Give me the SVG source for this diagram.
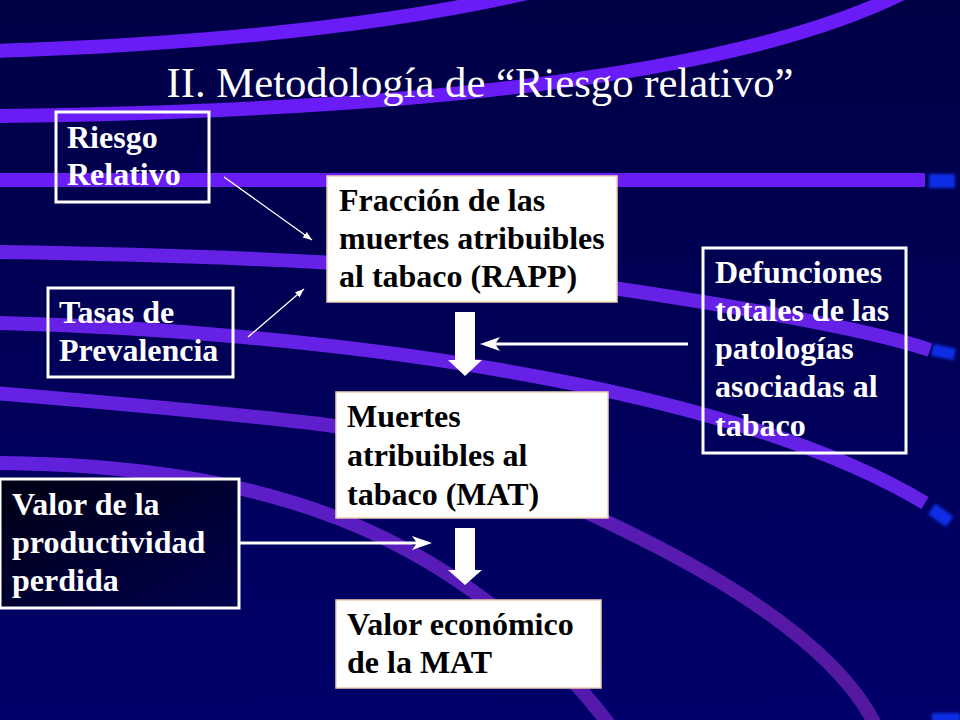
<svg xmlns="http://www.w3.org/2000/svg" width="960" height="720" viewBox="0 0 960 720">
<defs>
<style>
.title{font-family:"Liberation Serif","Times New Roman",serif;font-size:42.7px;fill:#ffffff}
.lbl{font-family:"Liberation Serif","Times New Roman",serif;font-weight:bold;font-size:32px}
.lt{fill:#ffffff}
.dk{fill:#000000}
.obox{fill:none;stroke:#ffffff;stroke-width:3}
.wbox{fill:#ffffff;stroke:#f0d0b0;stroke-width:1.5}
.st{fill:none;stroke-width:14}
.thin{stroke:#ffffff;stroke-width:1.3;fill:none;marker-end:url(#thinHead)}
.thick{stroke:#ffffff;stroke-width:3;fill:none;marker-end:url(#thickHead)}
.block{fill:#ffffff}
.blue{fill:#0a2ee6;filter:url(#soft)}
</style>
<linearGradient id="bg" x1="0" y1="0" x2="0" y2="1">
<stop offset="0" stop-color="#000046"/>
<stop offset="1" stop-color="#00006a"/>
</linearGradient>
<linearGradient id="darkFill" x1="0" y1="0" x2="1" y2="1">
<stop offset="0" stop-color="#000012"/>
<stop offset="1" stop-color="#000050"/>
</linearGradient>
<linearGradient id="fadeC" gradientUnits="userSpaceOnUse" x1="0" y1="0" x2="880" y2="0">
<stop offset="0" stop-color="#6522e6"/>
<stop offset="1" stop-color="#54189e"/>
</linearGradient>
<linearGradient id="fadeD" gradientUnits="userSpaceOnUse" x1="0" y1="0" x2="620" y2="0">
<stop offset="0" stop-color="#6222e0"/>
<stop offset="1" stop-color="#5418a8"/>
</linearGradient>
<filter id="soft" x="-50%" y="-50%" width="200%" height="200%">
<feGaussianBlur stdDeviation="1.6"/>
</filter>
<marker id="thinHead" markerUnits="userSpaceOnUse" markerWidth="10" markerHeight="8" refX="9" refY="3.5" orient="auto">
<path d="M0,0 L9,3.5 L0,7 z" fill="#ffffff"/>
</marker>
<marker id="thickHead" markerUnits="userSpaceOnUse" markerWidth="21" markerHeight="15" refX="8" refY="7" orient="auto">
<path d="M0,0 L20,7 L0,14 L5,7 z" fill="#ffffff"/>
</marker>
</defs>

<rect width="960" height="720" fill="url(#bg)"/>

<g id="background-stripes">
<path class="st" stroke="#6a1cf6" d="M-5,51 Q330,40 540,-10"/>
<path class="st" stroke="#6a1cf6" d="M-5,116 C350,112 720,85 905,-8"/>
<rect x="0" y="173" width="925" height="14" fill="#6a1cf6"/>
<rect class="blue" x="929" y="174" width="26" height="14"/>
<path class="st" stroke="#6522e6" d="M-5,252 Q420,258 640,292 T930,350"/>
<rect class="blue" x="932" y="346" width="23" height="12" transform="rotate(12 943 352)"/>
<path class="st" stroke="#6522e6" d="M-5,323 C300,330 720,380 925,503"/>
<rect class="blue" x="930" y="509" width="22" height="13" transform="rotate(35 941 515)"/>
<path class="st" stroke="url(#fadeC)" d="M-5,393 Q200,410 320,424 T640,538 T880,735"/>
<path class="st" stroke="url(#fadeD)" d="M-5,463 C250,465 455,522 612,728"/>
<rect class="blue" x="932" y="713" width="28" height="10"/>
</g>

<text class="title" x="480" y="97" text-anchor="middle">II. Metodología de “Riesgo relativo”</text>

<g id="node-riesgo">
<rect class="obox" x="56" y="112" width="153" height="90"/>
<text class="lbl lt"><tspan x="67" y="148">Riesgo</tspan><tspan x="67" y="185">Relativo</tspan></text>
</g>

<g id="node-tasas">
<rect class="obox" x="48" y="288" width="185" height="89"/>
<text class="lbl lt"><tspan x="59" y="323">Tasas de</tspan><tspan x="59" y="361">Prevalencia</tspan></text>
</g>

<g id="node-fraccion">
<rect class="wbox" x="327" y="176" width="290" height="126"/>
<text class="lbl dk"><tspan x="339" y="211">Fracción de las</tspan><tspan x="339" y="249">muertes atribuibles</tspan><tspan x="339" y="287">al tabaco (RAPP)</tspan></text>
</g>

<g id="node-defunciones">
<rect class="obox" x="703" y="248" width="203" height="205"/>
<text class="lbl lt"><tspan x="715" y="283">Defunciones</tspan><tspan x="715" y="321">totales de las</tspan><tspan x="715" y="359">patologías</tspan><tspan x="715" y="397">asociadas al</tspan><tspan x="715" y="436">tabaco</tspan></text>
</g>

<g id="node-muertes">
<rect class="wbox" x="336" y="392" width="272" height="126"/>
<text class="lbl dk"><tspan x="347" y="427">Muertes</tspan><tspan x="347" y="466">atribuibles al</tspan><tspan x="347" y="505">tabaco (MAT)</tspan></text>
</g>

<g id="node-valor">
<rect x="0" y="479" width="239" height="129" fill="url(#darkFill)" stroke="#ffffff" stroke-width="3"/>
<text class="lbl lt"><tspan x="12" y="515">Valor de la</tspan><tspan x="12" y="553">productividad</tspan><tspan x="12" y="591">perdida</tspan></text>
</g>

<g id="node-valor-economico">
<rect class="wbox" x="336" y="600" width="265" height="88"/>
<text class="lbl dk"><tspan x="347" y="635">Valor económico</tspan><tspan x="347" y="673">de la MAT</tspan></text>
</g>

<g id="connectors">
<line class="thin" x1="224" y1="177" x2="312" y2="240"/>
<line class="thin" x1="248" y1="337" x2="304" y2="289"/>
<line class="thick" x1="688" y1="344" x2="492" y2="344"/>
<line class="thick" x1="240" y1="543" x2="420" y2="543"/>
<polygon class="block" points="455,312 475,312 475,360 482,360 465,376 448,360 455,360"/>
<polygon class="block" points="455,528 475,528 475,570 482,570 465,585 448,570 455,570"/>
</g>
</svg>
